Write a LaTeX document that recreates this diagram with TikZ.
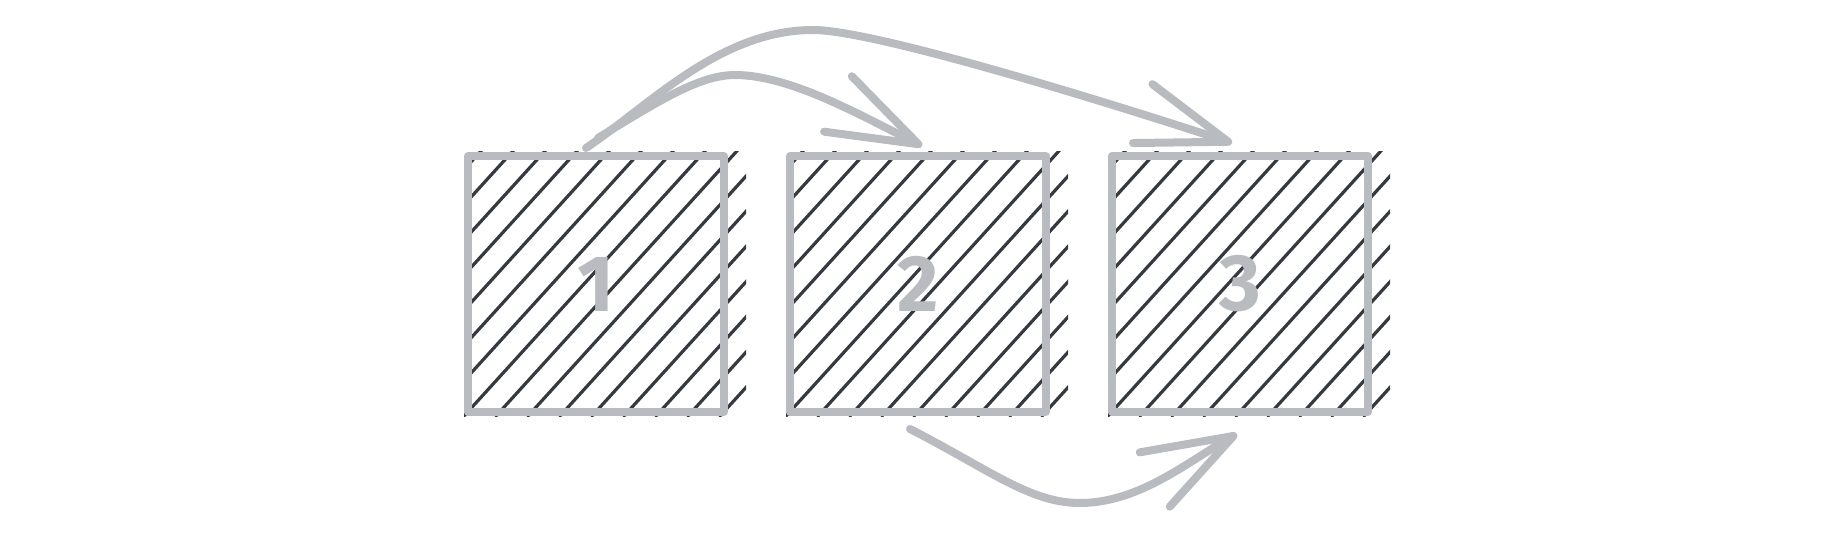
\documentclass[tikz,border=0pt]{standalone}
\usepackage{fontspec}
\setmainfont{Fira Sans}
\usetikzlibrary{arrows.meta,calc}
\definecolor{sketchgray}{HTML}{B8BCC0}
\definecolor{hatchink}{HTML}{343A40}
\pgfdeclarelayer{bg}
\pgfsetlayers{bg,main}
\begin{document}
\begin{tikzpicture}[x=1pt,y=-1pt,
	cell/.style={draw=sketchgray,line width=8pt,line join=round,minimum width=256pt,minimum height=256pt,inner sep=0pt,text=sketchgray,font=\fontsize{80}{80}\selectfont\bfseries},
	hatch/.style={hatchink,line width=3.2pt,line cap=round},
	flow/.style={sketchgray,line width=8pt,line cap=round,-{Straight Barb[length=90pt,width=62pt,round]}}]
		\useasboundingbox (0,0) rectangle (1837,540);
		\node[cell] (c1) at (596,284) {1};
		\node[cell] (c2) at (918,284) {2};
		\node[cell] (c3) at (1240,284) {3};
		\begin{pgfonlayer}{bg}
			\foreach \c in {c1,c2,c3}{
				\begin{scope}
					\clip (\c.south west) rectangle ($(\c.north east)+(18,0)$);
					\foreach \i in {-8,...,9}
						\draw[hatch] ($(\c.south west)+(\i*32,0)$)--++(300,-330);
				\end{scope}
			}
		\end{pgfonlayer}
		\draw[flow] ($(c1.north)+(2,-14)$) .. controls (660,100) and (700,75) .. (735,75) .. controls (790,75) and (860,115) .. ($(c2.north)+(4,-6)$);
		\draw[flow] ($(c1.north)+(-10,-4)$) .. controls (650,105) and (720,30) .. (813,30) .. controls (880,30) and (1150,116) .. ($(c3.north)+(-8,-9)$);
		\draw[flow] ($(c2.south)+(-8,13)$) .. controls (990,470) and (1030,503) .. (1080,503) .. controls (1140,503) and (1190,460) .. ($(c3.south)+(-3,18)$);
	\end{tikzpicture}
\end{document}
